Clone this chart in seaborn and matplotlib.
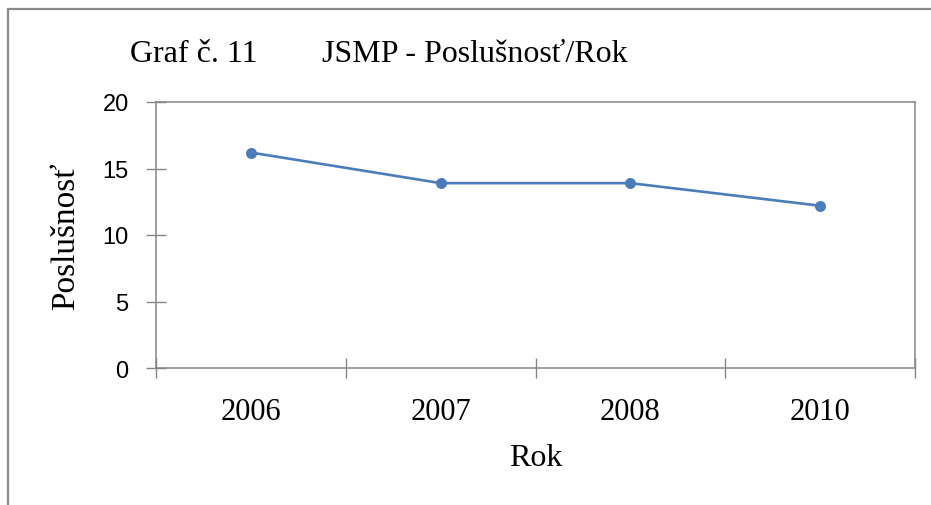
import matplotlib
matplotlib.use("Agg")
import matplotlib.pyplot as plt
import seaborn as sns
import pandas as pd
from matplotlib.patches import Rectangle
from matplotlib.ticker import FixedLocator, NullFormatter

years = ["2006", "2007", "2008", "2010"]
values = [16.2, 13.9, 13.9, 12.2]
y_ticks = [0, 5, 10, 15, 20]

sns.set_theme(style="white")
plt.rcParams["font.family"] = ["Liberation Serif", "DejaVu Serif"]
plt.rcParams["text.color"] = "black"
plt.rcParams["axes.labelcolor"] = "black"
plt.rcParams["xtick.labelcolor"] = "black"
plt.rcParams["ytick.labelcolor"] = "black"

df = pd.DataFrame({"Rok": years, "Poslušnosť": values})

W, H, DPI = 931, 506, 100
fig = plt.figure(figsize=(W / DPI, H / DPI), dpi=DPI)
ax = fig.add_axes([156 / W, 1 - 369 / H, (915 - 156) / W, (369 - 103) / H])

sns.pointplot(data=df, x="Rok", y="Poslušnosť", color="#4A7EBB",
              errorbar=None, markers="o", markersize=6.5, linewidth=1.9, ax=ax)

ax.set_ylim(0, 20)
ax.set_xlim(-0.5, len(years) - 0.5)
ax.set_yticks(y_ticks)
ax.set_yticklabels([str(t) for t in y_ticks], family="Liberation Sans", fontsize=17)
ax.tick_params(axis="y", left=True, direction="inout", length=14.4, width=1,
               color="#868686", pad=12.5)

ax.set_xticks(range(len(years)))
ax.set_xticklabels(years, fontsize=22)
ax.tick_params(axis="x", which="major", length=0, pad=21)
ax.xaxis.set_minor_locator(FixedLocator([i - 0.5 for i in range(len(years) + 1)]))
ax.xaxis.set_minor_formatter(NullFormatter())
ax.tick_params(axis="x", which="minor", direction="inout", length=14.4, width=1,
               color="#868686", bottom=True)

for s in ax.spines.values():
    s.set_color("#868686")
    s.set_linewidth(1.1)
    s.set_visible(True)

ax.set_xlabel("Rok", fontsize=23, labelpad=12)
ax.set_ylabel("Poslušnosť", fontsize=24, labelpad=15)
ax.grid(False)

fig.text(130 / W, 1 - 55 / H, "Graf č. 11", fontsize=23, va="center", ha="left")
fig.text(322 / W, 1 - 55 / H, "JSMP - Poslušnosť/Rok", fontsize=23, va="center", ha="left")

fig.patches.append(Rectangle((8 / W, -0.1), 1.2, 1.1 - 10 / H, transform=fig.transFigure,
                             fill=False, edgecolor="#8a8a8a", linewidth=1.6))

fig.savefig("out.png", dpi=DPI)
